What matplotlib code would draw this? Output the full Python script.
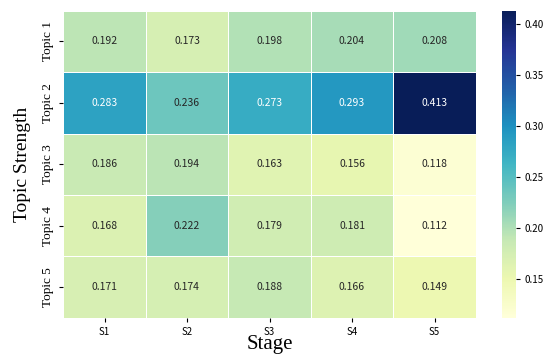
import matplotlib
matplotlib.use("Agg")
import matplotlib.pyplot as plt
import numpy as np
import seaborn as sns

stages = ["S1", "S2", "S3", "S4", "S5"]
topics = ["Topic 1", "Topic 2", "Topic 3", "Topic 4", "Topic 5"]
strength = np.array([
    [0.192, 0.173, 0.198, 0.204, 0.208],
    [0.283, 0.236, 0.273, 0.293, 0.413],
    [0.186, 0.194, 0.163, 0.156, 0.118],
    [0.168, 0.222, 0.179, 0.181, 0.112],
    [0.171, 0.174, 0.188, 0.166, 0.149],
])

plt.rcParams["font.family"] = ["Noto Sans CJK SC", "DejaVu Sans"]

fig = plt.figure(figsize=(5.5, 3.59), dpi=100)
ax = fig.add_axes([0.115, 0.115, 0.75, 0.855])
cax = fig.add_axes([0.912, 0.115, 0.026, 0.855])

sns.heatmap(strength, ax=ax, cbar_ax=cax, cmap="YlGnBu", annot=True, fmt=".3f",
            linewidths=0.5, linecolor="white",
            annot_kws={"fontsize": 7.5},
            xticklabels=stages, yticklabels=topics)

ax.set_xticklabels(stages, fontsize=7, rotation=0)
ax.set_yticklabels(topics, fontsize=9.5, rotation=90, va="center",
                   family=["Liberation Serif"])
ax.set_xlabel("Stage", fontsize=15, family=["Liberation Serif"], labelpad=-1)
ax.set_ylabel("Topic Strength", fontsize=14, family=["Liberation Serif"], labelpad=8)
ax.tick_params(axis="both", length=3, width=0.8)

cax.tick_params(labelsize=7, length=3, width=0.8)
cax.set_yticks([0.15, 0.20, 0.25, 0.30, 0.35, 0.40])
cax.set_yticklabels(["0.15", "0.20", "0.25", "0.30", "0.35", "0.40"])

fig.savefig("out.png", dpi=100)
